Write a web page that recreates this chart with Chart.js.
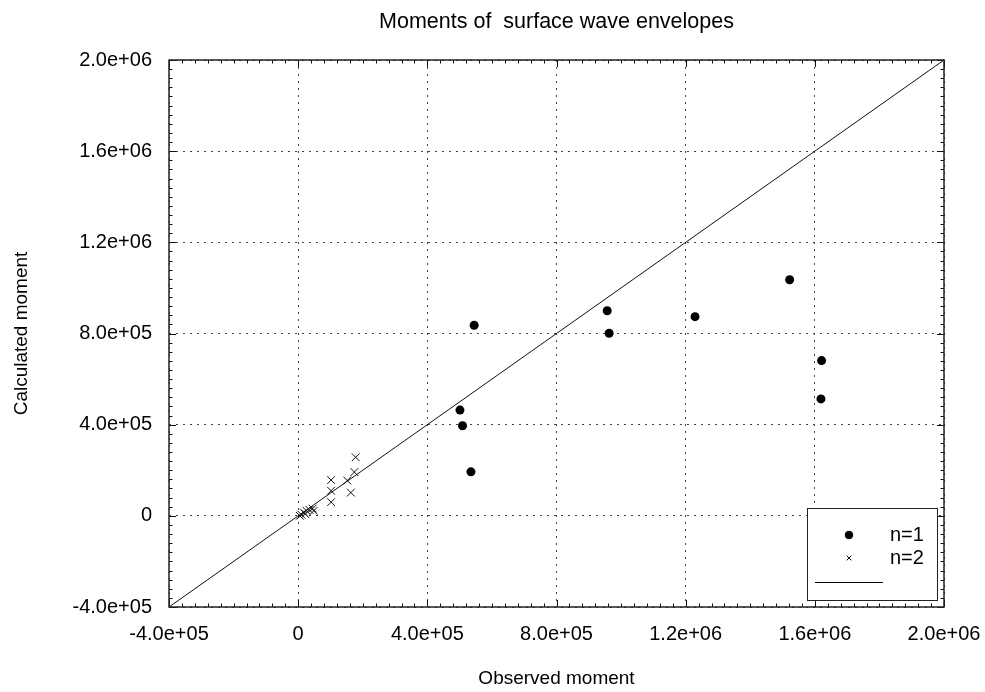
<!DOCTYPE html>
<html>
<head>
<meta charset="utf-8">
<script src="https://cdn.jsdelivr.net/npm/chart.js@4/dist/chart.umd.min.js"></script>
<style>
  html, body { margin: 0; padding: 0; background: #ffffff; }
  #wrap { width: 985px; height: 692px; }
</style>
</head>
<body>
<div id="wrap"><canvas id="c" width="985" height="692"></canvas></div>
<script>
// Moments for n=1 (filled dots)
const n1Observed   = [5.45e5, 5.01e5, 5.09e5, 5.35e5, 9.57e5, 9.63e5, 1.229e6, 1.522e6, 1.621e6, 1.619e6];
const n1Calculated = [8.36e5, 4.64e5, 3.95e5, 1.93e5, 9.00e5, 8.01e5, 8.74e5, 1.036e6, 6.81e5, 5.13e5];

// Moments for n=2 (crosses)
const n2Observed   = [1.78e5, 1.74e5, 1.52e5, 1.63e5, 1.02e5, 1.02e5, 1.02e5, 1.0e4, 1.8e4, 2.6e4, 3.5e4, 4.5e4, 4.8e4, 2.2e4, 5.0e3];
const n2Calculated = [2.57e5, 1.92e5, 1.55e5, 1.02e5, 1.57e5, 1.10e5, 6.0e4, 5.0e3, 1.4e4, 2.2e4, 2.6e4, 3.2e4, 2.2e4, 8.0e3, 0];

// Ends of the one-to-one reference line
const lineEnds = [-4e5, 2e6];

// Axis ticks
const tickValues = [-4e5, 0, 4e5, 8e5, 1.2e6, 1.6e6, 2e6];
const tickLabels = ['-4.0e+05', '0', '4.0e+05', '8.0e+05', '1.2e+06', '1.6e+06', '2.0e+06'];
const minorPerMajor = 10;

const FONT = "'Liberation Sans', Arial, Helvetica, sans-serif";

const toPoints = (xs, ys) => xs.map((x, i) => ({ x: x, y: ys[i] }));

// Inward major/minor tick marks on all four sides plus the frame
const frameTicks = {
  id: 'frameTicks',
  afterDatasetsDraw(chart) {
    const { ctx, chartArea: ca, scales } = chart;
    const xs = scales.x, ys = scales.y;
    const step = (tickValues[1] - tickValues[0]) / minorPerMajor;
    const count = (tickValues.length - 1) * minorPerMajor;
    ctx.save();
    ctx.strokeStyle = '#111';
    ctx.lineWidth = 1;
    ctx.beginPath();
    for (let i = 0; i <= count; i++) {
      const v = tickValues[0] + i * step;
      const len = (i % minorPerMajor === 0) ? 7 : 3.5;
      const px = Math.round(xs.getPixelForValue(v)) + 0.5;
      const py = Math.round(ys.getPixelForValue(v)) + 0.5;
      ctx.moveTo(px, ca.bottom); ctx.lineTo(px, ca.bottom - len);
      ctx.moveTo(px, ca.top); ctx.lineTo(px, ca.top + len);
      ctx.moveTo(ca.left, py); ctx.lineTo(ca.left + len, py);
      ctx.moveTo(ca.right, py); ctx.lineTo(ca.right - len, py);
    }
    ctx.stroke();
    ctx.lineWidth = 1.5;
    ctx.strokeStyle = '#222';
    ctx.strokeRect(ca.left, ca.top, ca.right - ca.left, ca.bottom - ca.top);
    ctx.restore();
  }
};

// Boxed legend in the lower right corner of the plot
const boxLegend = {
  id: 'boxLegend',
  afterDraw(chart) {
    const { ctx, chartArea: ca } = chart;
    const bw = 130, bh = 92;
    const bx = ca.right - 137, by = ca.bottom - 99;
    ctx.save();
    ctx.fillStyle = '#fff';
    ctx.fillRect(bx, by, bw, bh);
    ctx.strokeStyle = '#222';
    ctx.lineWidth = 1;
    ctx.strokeRect(bx + 0.5, by + 0.5, bw, bh);

    const ds = chart.data.datasets;
    const rows = [
      { d: ds[1], y: by + 27, r: 3.8 },
      { d: ds[2], y: by + 50, r: 3.4 }
    ];
    ctx.font = '20px ' + FONT;
    ctx.textBaseline = 'middle';
    ctx.textAlign = 'left';
    rows.forEach(row => {
      ctx.fillStyle = '#000';
      ctx.strokeStyle = '#000';
      Chart.helpers.drawPoint(ctx, {
        pointStyle: row.d.pointStyle, radius: row.r, borderWidth: 1, rotation: 0
      }, bx + 42, row.y);
      ctx.fillStyle = '#000';
      ctx.fillText(row.d.label, bx + 83, row.y);
    });
    const ly = by + 74.5;
    ctx.strokeStyle = '#000';
    ctx.lineWidth = 1;
    ctx.beginPath();
    ctx.moveTo(bx + 8, ly);
    ctx.lineTo(bx + 76, ly);
    ctx.stroke();
    ctx.restore();
  }
};

const axisCommon = (titleText, titlePad) => ({
  type: 'linear',
  min: tickValues[0],
  max: tickValues[tickValues.length - 1],
  afterBuildTicks(scale) { scale.ticks = tickValues.map(v => ({ value: v })); },
  grid: { color: '#444', lineWidth: 1, drawTicks: false },
  border: { display: false, dash: [2, 5] },
  ticks: {
    color: '#000',
    font: { family: FONT, size: 20 },
    callback: (v, i) => tickLabels[i]
  },
  title: {
    display: true,
    text: titleText,
    color: '#000',
    font: { family: FONT, size: 19 },
    padding: titlePad
  }
});

const xAxis = axisCommon('Observed moment', { top: 0, bottom: 2 });
xAxis.position = 'bottom';
xAxis.ticks.padding = 15;
xAxis.ticks.maxRotation = 0;
xAxis.afterFit = scale => {
  scale.height = 85;
  scale.paddingLeft = 0;
  scale.paddingRight = 0;
};

const yAxis = axisCommon('Calculated moment', { top: 10, bottom: 0 });
yAxis.position = 'left';
yAxis.ticks.padding = 17;
yAxis.afterFit = scale => {
  scale.width = 169;
  scale.paddingTop = 0;
  scale.paddingBottom = 0;
};

new Chart(document.getElementById('c'), {
  type: 'scatter',
  data: {
    datasets: [
      {
        label: '',
        data: toPoints(lineEnds, lineEnds),
        showLine: true,
        borderColor: '#111',
        borderWidth: 1,
        pointRadius: 0,
        pointHoverRadius: 0,
        fill: false
      },
      {
        label: 'n=1',
        data: toPoints(n1Observed, n1Calculated),
        pointStyle: 'circle',
        pointRadius: 4.5,
        backgroundColor: '#000',
        borderColor: '#000',
        borderWidth: 0
      },
      {
        label: 'n=2',
        data: toPoints(n2Observed, n2Calculated),
        pointStyle: 'crossRot',
        pointRadius: 5.5,
        backgroundColor: '#000',
        borderColor: '#111',
        borderWidth: 1
      }
    ]
  },
  options: {
    responsive: false,
    animation: false,
    devicePixelRatio: 1,
    layout: { padding: { left: 0, right: 41, top: 0, bottom: 0 } },
    scales: { x: xAxis, y: yAxis },
    plugins: {
      legend: { display: false },
      tooltip: { enabled: false },
      title: {
        display: true,
        fullSize: false,
        text: 'Moments of  surface wave envelopes',
        color: '#000',
        font: { family: FONT, size: 21.5, weight: 'normal' },
        padding: { top: 9, bottom: 25.2 }
      }
    }
  },
  plugins: [frameTicks, boxLegend]
});
</script>
</body>
</html>
